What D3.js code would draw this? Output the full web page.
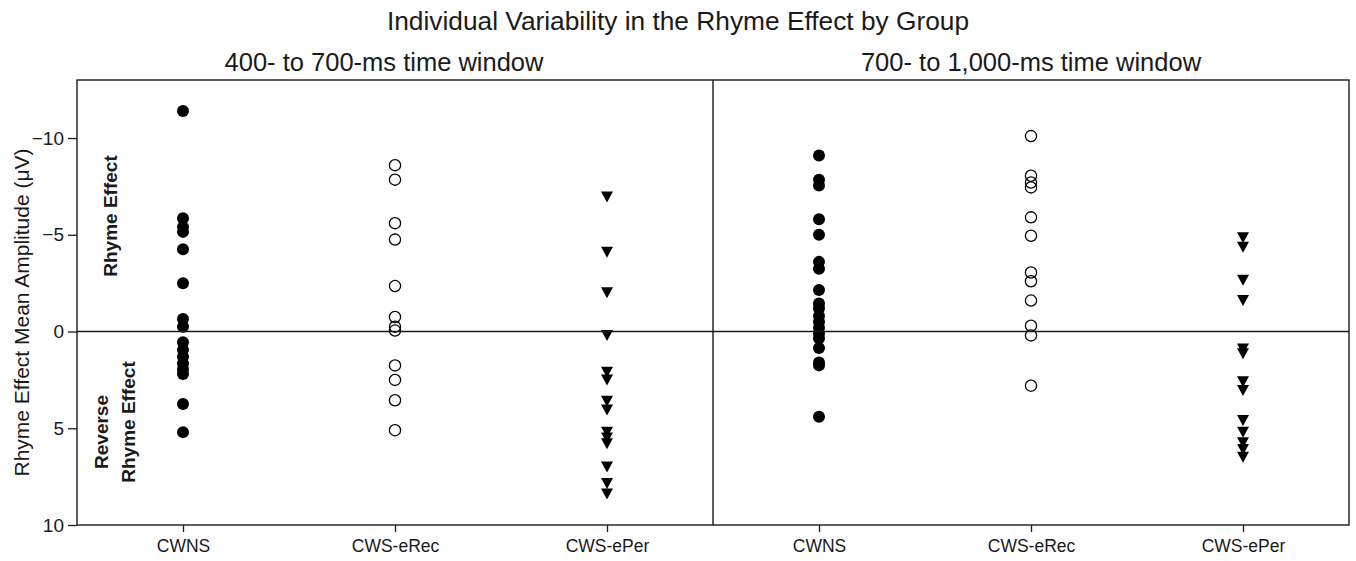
<!DOCTYPE html>
<html><head><meta charset="utf-8">
<script src="https://cdn.jsdelivr.net/npm/d3@7"></script>
<style>
body{margin:0;background:#fff}
svg{display:block;font-family:"Liberation Sans",Arial,sans-serif}
</style>
</head><body>
<svg id="chart" width="1356" height="561"></svg>
<script>
// ---- data ----
const groups = ["CWNS", "CWS-eRec", "CWS-ePer"];
const yTickValues = [-10, -5, 0, 5, 10];
const chartTitle = "Individual Variability in the Rhyme Effect by Group";
const panelTitles = ["400- to 700-ms time window", "700- to 1,000-ms time window"];
const yAxisTitle = "Rhyme Effect Mean Amplitude (\u03bcV)";

// 400- to 700-ms window
const early_CWNS = [-11.4, -5.85, -5.4, -5.15, -4.25, -2.5, -0.65, -0.25, 0.55, 0.95, 1.3, 1.65, 1.95, 2.2, 3.75, 5.2];
const early_eRec = [-8.6, -7.85, -5.6, -4.75, -2.35, -0.75, -0.25, -0.05, 1.75, 2.5, 3.55, 5.1];
const early_ePer = [-6.95, -4.1, -2.0, 0.2, 2.1, 2.5, 3.6, 4.05, 5.2, 5.5, 5.8, 7.0, 7.85, 8.4];

// 700- to 1,000-ms window
const late_CWNS = [-9.1, -7.85, -7.55, -5.8, -5.0, -3.6, -3.25, -2.15, -1.45, -1.2, -0.8, -0.5, -0.2, 0.1, 0.35, 0.85, 1.6, 1.75, 4.4];
const late_eRec = [-10.1, -8.05, -7.7, -7.45, -5.9, -4.95, -3.05, -2.6, -1.6, -0.3, 0.2, 2.8];
const late_ePer = [-4.85, -4.35, -2.65, -1.6, 0.9, 1.15, 2.6, 3.05, 4.6, 5.2, 5.75, 6.1, 6.5];

const panels = [
  {title: panelTitles[0], series: [early_CWNS, early_eRec, early_ePer]},
  {title: panelTitles[1], series: [late_CWNS, late_eRec, late_ePer]}
];

// ---- layout ----
const svg = d3.select("#chart");
const plotLeft = 77, plotTop = 80, plotBottom = 525, panelW = 636;
const ink = "#1a1a1a";
const fam = "Liberation Sans, Arial, sans-serif";

const y = d3.scaleLinear().domain([-13, 10]).range([plotTop, plotBottom]);
const x = d3.scalePoint().domain(groups).range([0, panelW]).padding(0.5);

// title
svg.append("text").attr("x", 678).attr("y", 30).attr("text-anchor", "middle")
  .attr("font-size", 26.3).attr("fill", ink).text(chartTitle);

const titleCenters = [384, 1031];

panels.forEach((p, i) => {
  const g = svg.append("g").attr("transform", `translate(${plotLeft + i * panelW},0)`);
  svg.append("text").attr("x", titleCenters[i]).attr("y", 71).attr("text-anchor", "middle")
    .attr("font-size", 25.5).attr("fill", ink).text(p.title);

  // bottom axis
  const ax = g.append("g").attr("transform", `translate(0,${plotBottom})`)
    .call(d3.axisBottom(x).tickSize(7).tickPadding(8));
  ax.select(".domain").remove();
  ax.selectAll("line").attr("stroke", ink).attr("stroke-width", 1.3);
  ax.selectAll("text").attr("font-size", 17.5).attr("fill", ink).attr("font-family", fam);

  const tri = "M-6,-5.5L6,-5.5L0,5.5Z";
  p.series.forEach((vals, k) => {
    const cx = x(groups[k]);
    const sel = g.append("g").selectAll("path").data(vals).enter();
    if (k === 0) {
      sel.append("circle").attr("cx", cx).attr("cy", d => y(d)).attr("r", 6).attr("fill", "#000");
    } else if (k === 1) {
      sel.append("circle").attr("cx", cx).attr("cy", d => y(d)).attr("r", 5.6)
        .attr("fill", "none").attr("stroke", "#000").attr("stroke-width", 1.3);
    } else {
      sel.append("path").attr("d", tri).attr("transform", d => `translate(${cx},${y(d)})`).attr("fill", "#000");
    }
  });
});

// frame, divider, zero line
svg.append("rect").attr("x", plotLeft).attr("y", plotTop).attr("width", panelW * 2).attr("height", plotBottom - plotTop)
  .attr("fill", "none").attr("stroke", ink).attr("stroke-width", 1.4);
svg.append("line").attr("x1", plotLeft + panelW).attr("x2", plotLeft + panelW).attr("y1", plotTop).attr("y2", plotBottom)
  .attr("stroke", ink).attr("stroke-width", 1.4);
svg.append("line").attr("x1", plotLeft).attr("x2", plotLeft + panelW * 2).attr("y1", y(0)).attr("y2", y(0))
  .attr("stroke", ink).attr("stroke-width", 1.6);

// y axis
const ay = svg.append("g").attr("transform", `translate(${plotLeft},0)`)
  .call(d3.axisLeft(y).tickValues(yTickValues).tickSize(9).tickPadding(4));
ay.select(".domain").remove();
ay.selectAll("line").attr("stroke", ink).attr("stroke-width", 1.3);
ay.selectAll("text").attr("font-size", 19).attr("fill", ink).attr("font-family", fam);

// y axis title
svg.append("text").attr("transform", "translate(21.5,312.5) rotate(-90)").attr("dy", "0.35em")
  .attr("text-anchor", "middle").attr("font-size", 21).attr("fill", ink).text(yAxisTitle);

// region labels
const lab = (t, cx, cy) => svg.append("text").attr("transform", `translate(${cx},${cy}) rotate(-90)`)
  .attr("dy", "0.35em").attr("text-anchor", "middle").attr("font-size", 19).attr("font-weight", "bold")
  .attr("fill", ink).text(t);
lab("Rhyme Effect", 110, 216);
lab("Reverse", 101.5, 432);
lab("Rhyme Effect", 128.5, 422);
</script>
</body></html>
